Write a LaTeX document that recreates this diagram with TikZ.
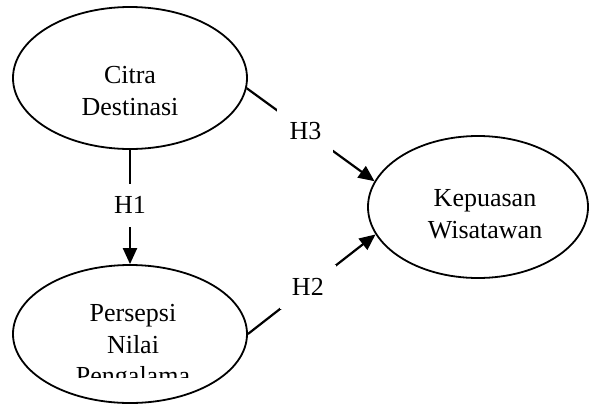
\documentclass[tikz,border=0pt]{standalone}
\usepackage{fontspec}
\setmainfont{Liberation Serif}
\usetikzlibrary{shapes.geometric,arrows.meta}
\tikzset{
  construct/.style={draw=black, ellipse, line width=1.8pt, inner sep=0pt},
  ctext/.style={align=center, inner sep=0pt, font=\fontsize{26}{31.5}\selectfont},
  conn/.style={line width=2.2pt, draw=black},
  arr/.style={conn, -{Triangle[length=16pt,width=14pt]}},
  hyp/.style={fill=white, inner sep=0pt, minimum width=56pt, minimum height=44pt, font=\fontsize{26}{31.5}\selectfont},
  hypv/.style={hyp, minimum width=40pt, minimum height=43pt}
}
\begin{document}
\begin{tikzpicture}[x=1pt,y=-1pt]
\useasboundingbox (0,0) rectangle (589,405);
% constructs
\node[construct, minimum width=234pt, minimum height=142pt] (c1) at (130,78) {};
\node[construct, minimum width=234pt, minimum height=138pt] (p2) at (130,334) {};
\node[construct, minimum width=220pt, minimum height=142pt] (kw) at (478,207) {};
% texts
\node[ctext] (c1t) at (130,91) {Citra\\Destinasi};
\node[ctext] (kwt) at (485,214) {Kepuasan\\Wisatawan};
\begin{scope}
  \clip (0,290) rectangle (260,377);
  \node[ctext] (p2t) at (133,347.5) {Persepsi\\Nilai\\Pengalama};
\end{scope}
% connectors
\draw[arr] (c1.south) -- node[hypv, pos=0.485] (h1) {H1} (p2.north);
\draw[arr] (c1.-5) -- node[hyp, pos=0.46] (h3) {H3} (kw.166);
\draw[arr] (p2.east) -- node[hyp, pos=0.47] (h2) {H2} (kw.195);
\end{tikzpicture}
\end{document}
